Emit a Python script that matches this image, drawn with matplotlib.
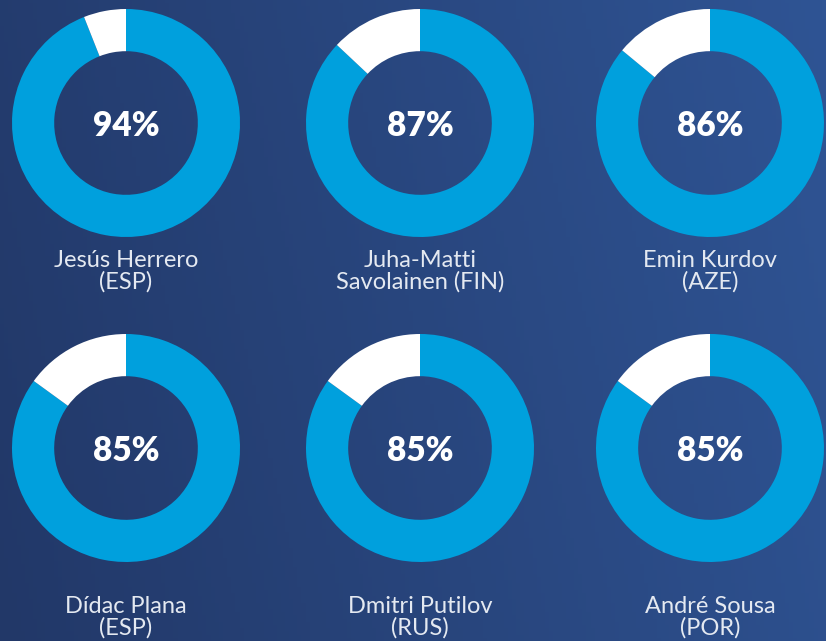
import numpy as np
import matplotlib.pyplot as plt
from matplotlib.colors import LinearSegmentedColormap

# data
names = ["Jesús Herrero\n(ESP)", "Juha-Matti\nSavolainen (FIN)", "Emin Kurdov\n(AZE)",
         "Dídac Plana\n(ESP)", "Dmitri Putilov\n(RUS)", "André Sousa\n(POR)"]
pct = [94, 87, 86, 85, 85, 85]

W, H = 826, 641
fig = plt.figure(figsize=(W / 100, H / 100), dpi=100)

# background gradient
bg = fig.add_axes([0, 0, 1, 1])
gx, gy = np.meshgrid(np.linspace(0, 1, 200), np.linspace(0, 1, 200))
grad = 0.85 * gx + 0.15 * (1 - gy)
cmap = LinearSegmentedColormap.from_list("bg", ["#223868", "#2f5494"])
bg.imshow(grad, cmap=cmap, aspect="auto", extent=[0, 1, 0, 1], origin="upper")
bg.axis("off")

# donut centres and label centres in pixels
cx = [126, 420, 710]
cy = [123, 448]
label_y = [271, 617]
r_px = 114

for i, (name, p) in enumerate(zip(names, pct)):
    x0 = cx[i % 3]
    y0 = cy[i // 3]
    ax = fig.add_axes([(x0 - r_px) / W, 1 - (y0 + r_px) / H, 2 * r_px / W, 2 * r_px / H])
    ax.pie([p, 100 - p], colors=["#00a0dd", "white"], startangle=90, counterclock=False,
           radius=1, wedgeprops=dict(width=0.37, linewidth=0))
    ax.set_aspect("equal")
    ax.set_xlim(-1, 1)
    ax.set_ylim(-1, 1)
    ax.axis("off")
    ax.text(0, -0.03, f"{p}%", ha="center", va="center", color="white",
            fontsize=24, fontweight="heavy", family="Lato")
    fig.text(x0 / W, 1 - label_y[i // 3] / H, name, ha="center", va="center", color="#e4e9f1",
             fontsize=17, family="Lato", fontweight="normal", linespacing=1.02, zorder=10)

fig.savefig("out.png", dpi=100)
